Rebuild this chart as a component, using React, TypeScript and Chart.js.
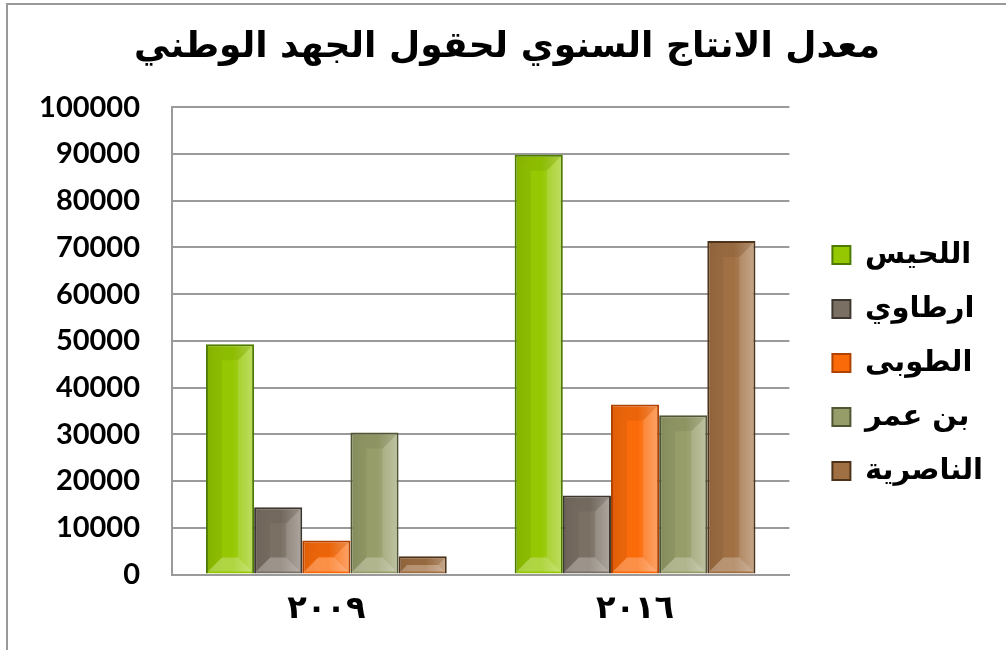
import React, { useEffect, useRef } from "react";
import { Chart, registerables } from "chart.js";

Chart.register(...registerables);

const TITLE = "معدل الانتاج السنوي لحقول الجهد الوطني";
const YEARS = ["٢٠٠٩", "٢٠١٦"];
const FIELD_NAMES = ["اللحيس", "ارطاوي", "الطوبى", "بن عمر", "الناصرية"];
const LUHAIS = [49300, 89800];
const ARTAWI = [14400, 16900];
const TUBA = [7300, 36400];
const BIN_OMAR = [30400, 34100];
const NASIRIYA = [3900, 71400];
const Y_TICKS = [0, 10000, 20000, 30000, 40000, 50000, 60000, 70000, 80000, 90000, 100000];

const FILLS = ["#95c800", "#7a6f63", "#fb6a08", "#969d68", "#a06f42"];
const BORDERS = ["#4f7a00", "#3e3730", "#b04200", "#525535", "#4d3319"];

const FONT = "'DejaVu Sans', sans-serif";
const NUM_FONT = "Lato, 'DejaVu Sans', sans-serif";

const bevelPlugin = {
  id: "bevel",
  afterDatasetsDraw(chart: any) {
    const ctx = chart.ctx as CanvasRenderingContext2D;
    const poly = (pts: number[][], color: string) => {
      ctx.beginPath();
      ctx.moveTo(pts[0][0], pts[0][1]);
      for (let i = 1; i < pts.length; i++) ctx.lineTo(pts[i][0], pts[i][1]);
      ctx.closePath();
      ctx.fillStyle = color;
      ctx.fill();
    };
    chart.data.datasets.forEach((_ds: any, di: number) => {
      const meta = chart.getDatasetMeta(di);
      if (meta.hidden) return;
      meta.data.forEach((bar: any) => {
        const { x, y, base, width } = bar.getProps(["x", "y", "base", "width"], true);
        const l = x - width / 2 + 2;
        const r = x + width / 2 - 2;
        const t = y + 2;
        const b = base - 2;
        if (b - t < 2) return;
        const bev = Math.min(14, (b - t) / 2, (r - l) / 2);
        ctx.save();
        const g = ctx.createLinearGradient(l, 0, r, 0);
        g.addColorStop(0, "rgba(0,0,0,0.06)");
        g.addColorStop(0.55, "rgba(255,255,255,0)");
        g.addColorStop(1, "rgba(255,255,255,0.28)");
        ctx.fillStyle = g;
        ctx.fillRect(l, t, r - l, b - t);
        poly([[l, t], [r, t], [r - bev, t + bev], [l + bev, t + bev]], "rgba(0,0,0,0.06)");
        poly([[l, b], [r, b], [r - bev, b - bev], [l + bev, b - bev]], "rgba(255,255,255,0.25)");
        poly([[l, t], [l + bev, t + bev], [l + bev, b - bev], [l, b]], "rgba(0,0,0,0.05)");
        poly([[r, t], [r - bev, t + bev], [r - bev, b - bev], [r, b]], "rgba(255,255,255,0.12)");
        ctx.restore();
      });
    });
  },
};

export default function App() {
  const ref = useRef<HTMLCanvasElement | null>(null);

  useEffect(() => {
    if (!ref.current) return;
    const series = [LUHAIS, ARTAWI, TUBA, BIN_OMAR, NASIRIYA];
    const chart = new Chart(ref.current, {
      type: "bar",
      data: {
        labels: YEARS,
        datasets: series.map((vals, i) => ({
          label: FIELD_NAMES[i],
          data: vals,
          backgroundColor: FILLS[i],
          borderColor: BORDERS[i],
          borderWidth: 2,
          categoryPercentage: 0.78,
          barPercentage: 1.0,
        })),
      },
      options: {
        responsive: false,
        animation: false,
        devicePixelRatio: 1,
        layout: { padding: { left: 21, right: 13, top: 14, bottom: 13 } },
        plugins: {
          title: {
            display: true,
            text: TITLE,
            color: "#000",
            font: { family: FONT, size: 36, weight: "bold" },
            padding: { top: 12, bottom: 38 },
          },
          legend: {
            position: "right",
            maxWidth: 400,
            title: { display: true, text: "", font: { size: 10 }, padding: { top: 32, bottom: 31 } },
            labels: {
              color: "#000",
              font: { family: FONT, size: 29, weight: "bold" },
              boxWidth: 18,
              boxHeight: 18,
              padding: 25,
            },
          },
          tooltip: { enabled: false },
        },
        scales: {
          x: {
            grid: { display: false },
            border: { display: true, color: "#9a9a9a", width: 2 },
            ticks: {
              color: "#000",
              font: { family: FONT, size: 32, weight: "bold" },
              padding: 8,
            },
          },
          y: {
            min: 0,
            max: 100000,
            afterBuildTicks: (axis: any) => {
              axis.ticks = Y_TICKS.map((v) => ({ value: v }));
            },
            afterFit: (axis: any) => {
              axis.width = 151;
            },
            grid: { color: "#9a9a9a", lineWidth: 2, drawTicks: false },
            border: { display: true, color: "#9a9a9a", width: 2 },
            ticks: {
              color: "#000",
              font: { family: NUM_FONT, size: 29, weight: "bold" },
              padding: 32,
              callback: (v: any) => String(v),
            },
          },
          gap: {
            position: "right",
            display: true,
            grid: { display: false, drawOnChartArea: false },
            border: { display: false },
            ticks: { display: false },
            afterFit: (axis: any) => {
              axis.width = 18;
            },
          },
        },
      },
      plugins: [bevelPlugin],
    });
    return () => chart.destroy();
  }, []);

  return (
    <div style={{ position: "fixed", left: 0, top: 0, width: 1006, height: 650, overflow: "hidden", background: "#fff" }}>
      <div style={{ position: "absolute", left: 6, top: 3, width: 1100, height: 800, border: "2px solid #999" }} />
      <canvas ref={ref} width={1006} height={650} style={{ position: "absolute", left: 0, top: 0 }} />
    </div>
  );
}
